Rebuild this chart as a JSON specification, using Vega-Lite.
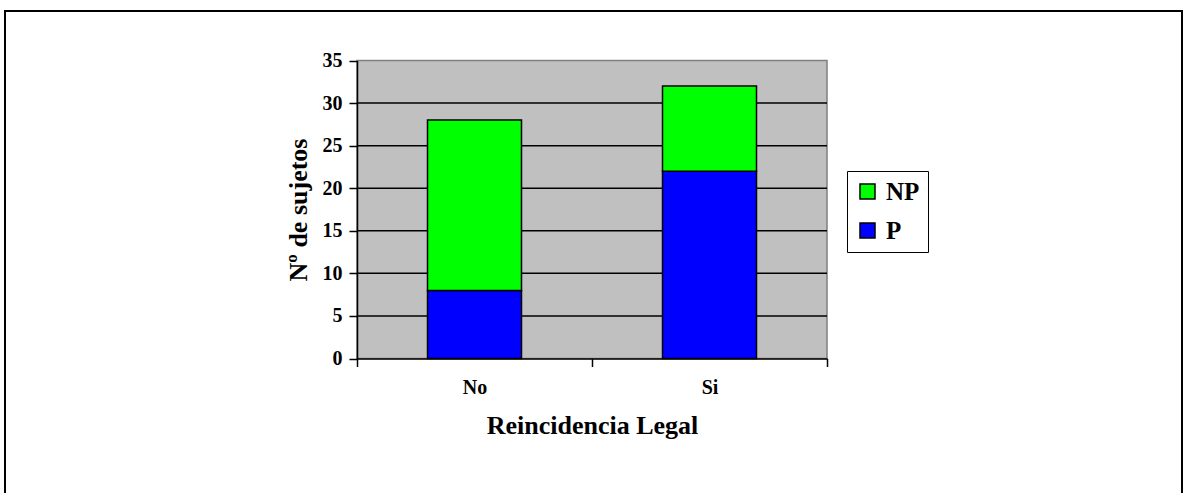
{
  "$schema": "https://vega.github.io/schema/vega-lite/v6.json",
  "width": 1177,
  "height": 492,
  "autosize": {"type": "none"},
  "padding": {"left": 5, "top": 11, "right": 2, "bottom": 0},
  "background": "white",
  "config": {
    "view": {"stroke": "black", "strokeWidth": 2, "fill": "white"},
    "font": "Liberation Serif"
  },
  "datasets": {
    "counts": [
      {"reincidencia": "No", "grupo": "P", "sujetos": 8},
      {"reincidencia": "No", "grupo": "NP", "sujetos": 20},
      {"reincidencia": "Si", "grupo": "P", "sujetos": 22},
      {"reincidencia": "Si", "grupo": "NP", "sujetos": 10}
    ],
    "grid": [{"v": 5}, {"v": 10}, {"v": 15}, {"v": 20}, {"v": 25}, {"v": 30}],
    "area": [{"zona": "plot"}]
  },
  "layer": [
    {
      "data": {"name": "area"},
      "mark": {"type": "rect", "fill": "#C0C0C0", "stroke": "#808080", "strokeWidth": 1.5},
      "encoding": {
        "x": {
          "datum": "No", "type": "nominal", "bandPosition": 0,
          "scale": {"domain": ["No", "Si"], "range": [352, 822], "paddingInner": 0, "paddingOuter": 0},
          "axis": {
            "title": "Reincidencia Legal",
            "offset": -144.5,
            "tickBand": "extent",
            "labelAngle": 0,
            "grid": false,
            "zindex": 1,
            "domainColor": "black",
            "domainWidth": 1.5,
            "tickColor": "black",
            "tickWidth": 1.5,
            "tickSize": 8,
            "labelPadding": 11,
            "labelFontSize": 20,
            "labelFontWeight": "bold",
            "labelColor": "black",
            "titleFontSize": 26,
            "titleFontWeight": "bold",
            "titleColor": "black",
            "titlePadding": 15
          }
        },
        "x2": {"datum": "Si", "bandPosition": 1},
        "y": {
          "datum": 0, "type": "quantitative",
          "scale": {"domain": [0, 35], "range": [347.5, 49.5], "nice": false, "zero": true},
          "axis": {
            "title": "Nº de sujetos",
            "offset": -352,
            "values": [0, 5, 10, 15, 20, 25, 30, 35],
            "grid": false,
            "zindex": 1,
            "domainColor": "black",
            "domainWidth": 1.5,
            "tickColor": "black",
            "tickWidth": 1.5,
            "tickSize": 8,
            "labelPadding": 7,
            "labelFontSize": 20,
            "labelFontWeight": "bold",
            "labelColor": "black",
            "titleFontSize": 26,
            "titleFontWeight": "bold",
            "titleColor": "black",
            "titlePadding": 11
          }
        },
        "y2": {"datum": 35}
      }
    },
    {
      "data": {"name": "grid"},
      "mark": {"type": "rule", "color": "black", "strokeWidth": 1.5},
      "encoding": {
        "x": {"datum": "No", "type": "nominal", "bandPosition": 0},
        "x2": {"datum": "Si", "bandPosition": 1},
        "y": {"field": "v", "type": "quantitative"}
      }
    },
    {
      "data": {"name": "counts"},
      "mark": {"type": "bar", "stroke": "black", "strokeWidth": 1.5, "width": {"band": 0.4}},
      "encoding": {
        "x": {"field": "reincidencia", "type": "nominal"},
        "y": {"field": "sujetos", "type": "quantitative", "stack": "zero"},
        "color": {
          "field": "grupo",
          "type": "nominal",
          "scale": {"domain": ["NP", "P"], "range": ["#00FF00", "#0000FF"]},
          "legend": {
            "title": null,
            "orient": "none",
            "legendX": 842,
            "legendY": 160,
            "symbolType": "square",
            "symbolSize": 225,
            "symbolStrokeColor": "black",
            "symbolStrokeWidth": 1.5,
            "symbolOpacity": 1,
            "labelFontSize": 25,
            "labelFontWeight": "bold",
            "labelColor": "black",
            "labelFont": "Liberation Serif",
            "strokeColor": "black",
            "fillColor": "white",
            "padding": 8,
            "rowPadding": 13,
            "labelOffset": 6
          }
        },
        "order": {"field": "grupo", "sort": "descending"}
      }
    }
  ]
}
